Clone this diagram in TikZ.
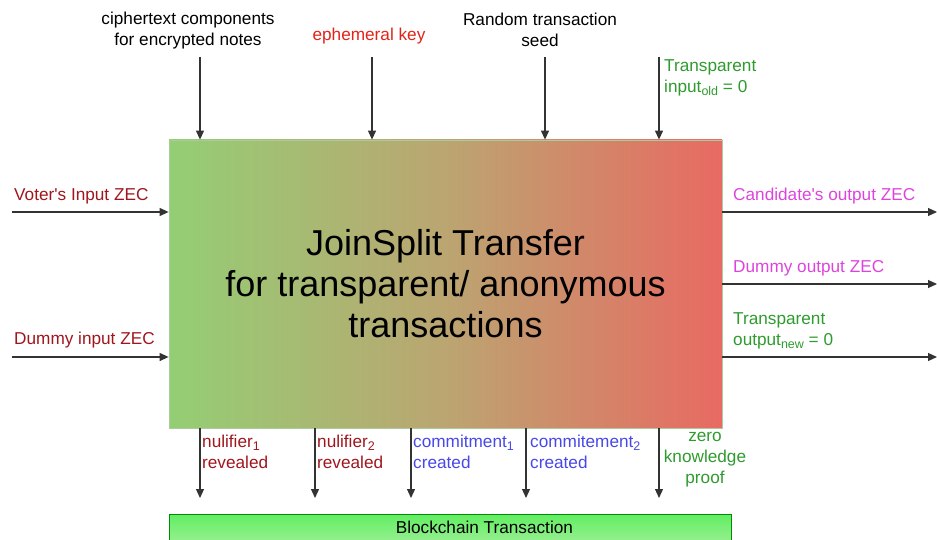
\documentclass[tikz,border=0pt]{standalone}
\usepackage{fontspec}
\setmainfont{Liberation Sans}[Ligatures=TeXOff]
\usetikzlibrary{arrows.meta}
\definecolor{dred}{HTML}{A0161E}
\definecolor{ered}{HTML}{E2231A}
\definecolor{tgreen}{HTML}{2E9B2E}
\definecolor{mag}{HTML}{DD44DD}
\definecolor{cblue}{HTML}{4848E8}
\definecolor{gleft}{HTML}{94CE74}
\definecolor{gmid}{HTML}{BBA571}
\definecolor{gright}{HTML}{E86A62}
\definecolor{bctop}{HTML}{62EE62}
\definecolor{bcbot}{HTML}{A6F09E}
\definecolor{linec}{HTML}{333333}
\newcommand\lblsub[1]{\raisebox{-0.35ex}{\fontsize{12.5}{12.5}\selectfont #1}}
\begin{document}
\begin{tikzpicture}[x=1pt,y=-1pt,
  arr/.style={draw=linec, line width=1.2pt, -{Triangle[width=8pt,length=9pt]}},
  lbl/.style={font=\fontsize{17.2}{21}\selectfont, inner sep=0pt},
  title/.style={font=\fontsize{36}{41}\selectfont, align=center},
  mainbox/.style={draw=gleft!80!black!60, line width=0.8pt, left color=gleft, right color=gright, middle color=gmid, minimum width=553pt, minimum height=288pt, inner sep=0pt},
  bcbox/.style={draw=green!55!black, line width=0.8pt, top color=bctop, bottom color=bcbot, minimum width=562pt, minimum height=36pt, anchor=north west, inner sep=0pt}
]
\useasboundingbox (0,0) rectangle (937,540);

\node[mainbox, title] (main) at (445.5,284) {JoinSplit Transfer\\for transparent/ anonymous\\transactions};
\node[bcbox] (bc) at (169,514) {};
\path (bc.north) ++(34,13) node[lbl] (bct) {Blockchain Transaction};

% top inputs
\coordinate (t1) at (200,57);
\coordinate (t2) at (372,57);
\coordinate (t3) at (545,57);
\coordinate (t4) at (659,57);
\foreach \c in {t1,t2,t3,t4} \draw[arr] (\c) -- (\c |- main.north);
\node[lbl, align=center] (lt1) at (188,31) {ciphertext components\\for encrypted notes};
\node[lbl, text=ered] (lt2) at (369,36) {ephemeral key};
\node[lbl, align=center] (lt3) at (540,29.5) {Random transaction\\seed};
\node[lbl, align=left, text=tgreen, anchor=west] (lt4) at (664,78) {Transparent\\input\lblsub{old} = 0};

% left inputs
\coordinate (l1) at (12,212);
\coordinate (l2) at (12,357);
\foreach \c in {l1,l2} \draw[arr] (\c) -- (\c -| main.west);
\node[lbl, text=dred, anchor=west] (ll1) at (14,196) {Voter's Input ZEC};
\node[lbl, text=dred, anchor=west] (ll2) at (14,340) {Dummy input ZEC};

% right outputs
\coordinate (r1) at (937,212);
\coordinate (r2) at (937,284);
\coordinate (r3) at (937,357);
\foreach \c in {r1,r2,r3} \draw[arr] (\c -| main.east) -- (\c);
\node[lbl, text=mag, anchor=west] (lr1) at (733,196) {Candidate's output ZEC};
\node[lbl, text=mag, anchor=west] (lr2) at (733,268) {Dummy output ZEC};
\node[lbl, align=left, text=tgreen, anchor=west] (lr3) at (733,331) {Transparent\\output\lblsub{new} = 0};

% bottom outputs
\coordinate (b1) at (200,498);
\coordinate (b2) at (315,498);
\coordinate (b3) at (411,498);
\coordinate (b4) at (526,498);
\coordinate (b5) at (659,498);
\foreach \c in {b1,b2,b3,b4,b5} \draw[arr] (\c |- main.south) -- (\c);
\node[lbl, align=left, text=dred, anchor=west] (lb1) at (202,452) {nulifier\lblsub{1}\\revealed};
\node[lbl, align=left, text=dred, anchor=west] (lb2) at (317,452) {nulifier\lblsub{2}\\revealed};
\node[lbl, align=left, text=cblue, anchor=west] (lb3) at (413,452) {commitment\lblsub{1}\\created};
\node[lbl, align=left, text=cblue, anchor=west] (lb4) at (530,452) {commitement\lblsub{2}\\created};
\node[lbl, align=center, text=tgreen] (lb5) at (705,460) {zero\\knowledge\\proof};
\end{tikzpicture}
\end{document}
